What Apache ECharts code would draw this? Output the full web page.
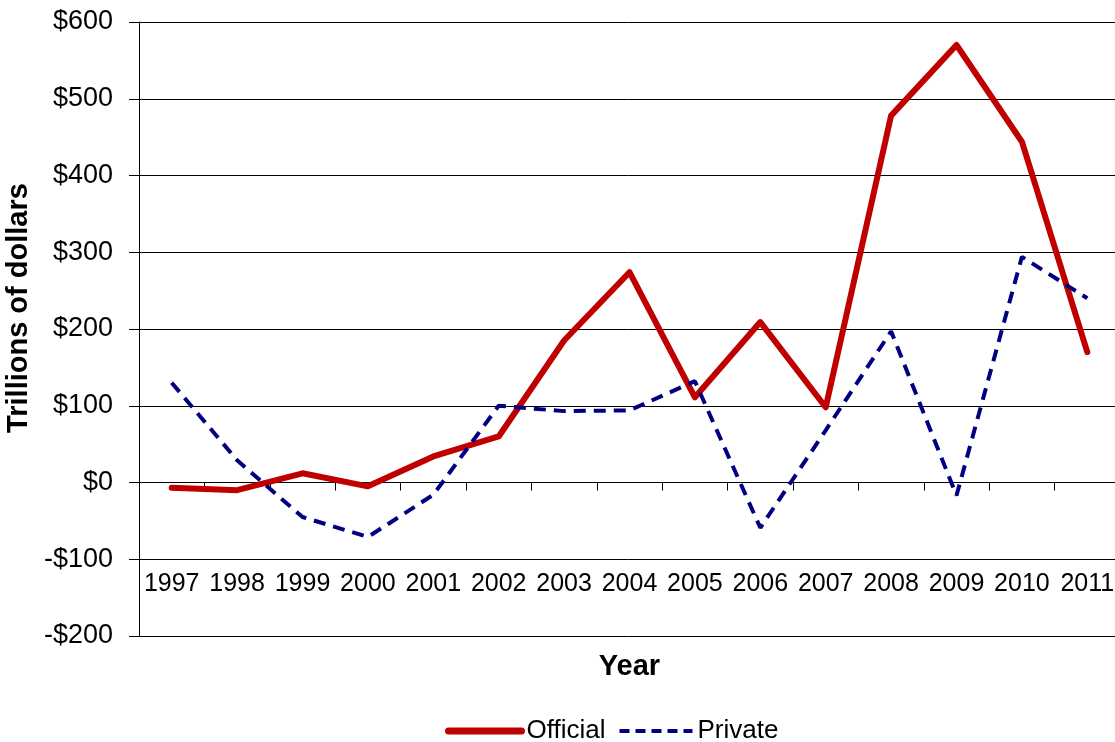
<!DOCTYPE html>
<html>
<head>
<meta charset="utf-8">
<script src="https://cdn.jsdelivr.net/npm/echarts@6/dist/echarts.min.js"></script>
<style>html,body{margin:0;padding:0;background:#fff}#c{width:1115px;height:742px}</style>
</head>
<body>
<div id="c"></div>
<script>
const years = ['1997','1998','1999','2000','2001','2002','2003','2004','2005','2006','2007','2008','2009','2010','2011'];
const official = [-7, -10, 12, -5, 34, 60, 185, 274, 111, 209, 98, 478, 570, 444, 170];
const privateFlows = [130, 29, -45, -71, -16, 100, 93, 94, 132, -59, 68, 197, -17, 294, 240];
const yTicks = {min: -200, max: 600, interval: 100};

const chart = echarts.init(document.getElementById('c'));
const font = 'Liberation Sans, Arial, sans-serif';
chart.setOption({
  animation: false,
  textStyle: {fontFamily: font},
  grid: {left: 139, right: -5, top: 22, bottom: 106, containLabel: false, outerBoundsMode: 'none'},
  legend: {
    bottom: -7, left: 440,
    itemWidth: 73, itemHeight: 14, itemGap: 12,
    itemStyle: {opacity: 0},
    textStyle: {fontSize: 26, color: '#000', fontFamily: font},
    data: [
      {name: 'Official', lineStyle: {width: 7, color: '#C00000', cap: 'round'}},
      {name: 'Private', lineStyle: {width: 4, color: '#000080', type: [10, 6]}}
    ]
  },
  xAxis: {
    type: 'category',
    data: years,
    name: 'Year', nameLocation: 'middle', nameGap: 16,
    nameTextStyle: {fontSize: 29, fontWeight: 'bold', color: '#000'},
    axisLine: {onZero: true, lineStyle: {color: '#000', width: 1}},
    axisTick: {show: true, length: 8, interval: 0, lineStyle: {color: '#000'}},
    axisLabel: {fontSize: 25, color: '#000', margin: -64, interval: 0}
  },
  yAxis: {
    type: 'value',
    min: yTicks.min, max: yTicks.max, interval: yTicks.interval,
    name: 'Trillions of dollars', nameLocation: 'middle', nameGap: 94,
    nameTextStyle: {fontSize: 29, fontWeight: 'bold', color: '#000', padding: [0,0,0,42]},
    axisLine: {show: true, lineStyle: {color: '#000', width: 1}},
    axisTick: {show: true, length: 10, lineStyle: {color: '#000'}},
    axisLabel: {fontSize: 27, color: '#000', margin: 26,
      formatter: v => (v < 0 ? '-$' + Math.abs(v) : '$' + v)},
    splitLine: {show: true, lineStyle: {color: '#000', width: 1}}
  },
  series: [
    {name: 'Official', type: 'line', data: official, symbol: 'none',
     lineStyle: {color: '#C00000', width: 6, cap: 'round', join: 'round'},
     itemStyle: {color: '#C00000'}},
    {name: 'Private', type: 'line', data: privateFlows, symbol: 'none',
     lineStyle: {color: '#000080', width: 4, type: [12, 8]},
     itemStyle: {color: '#000080'}}
  ]
});
</script>
</body>
</html>
